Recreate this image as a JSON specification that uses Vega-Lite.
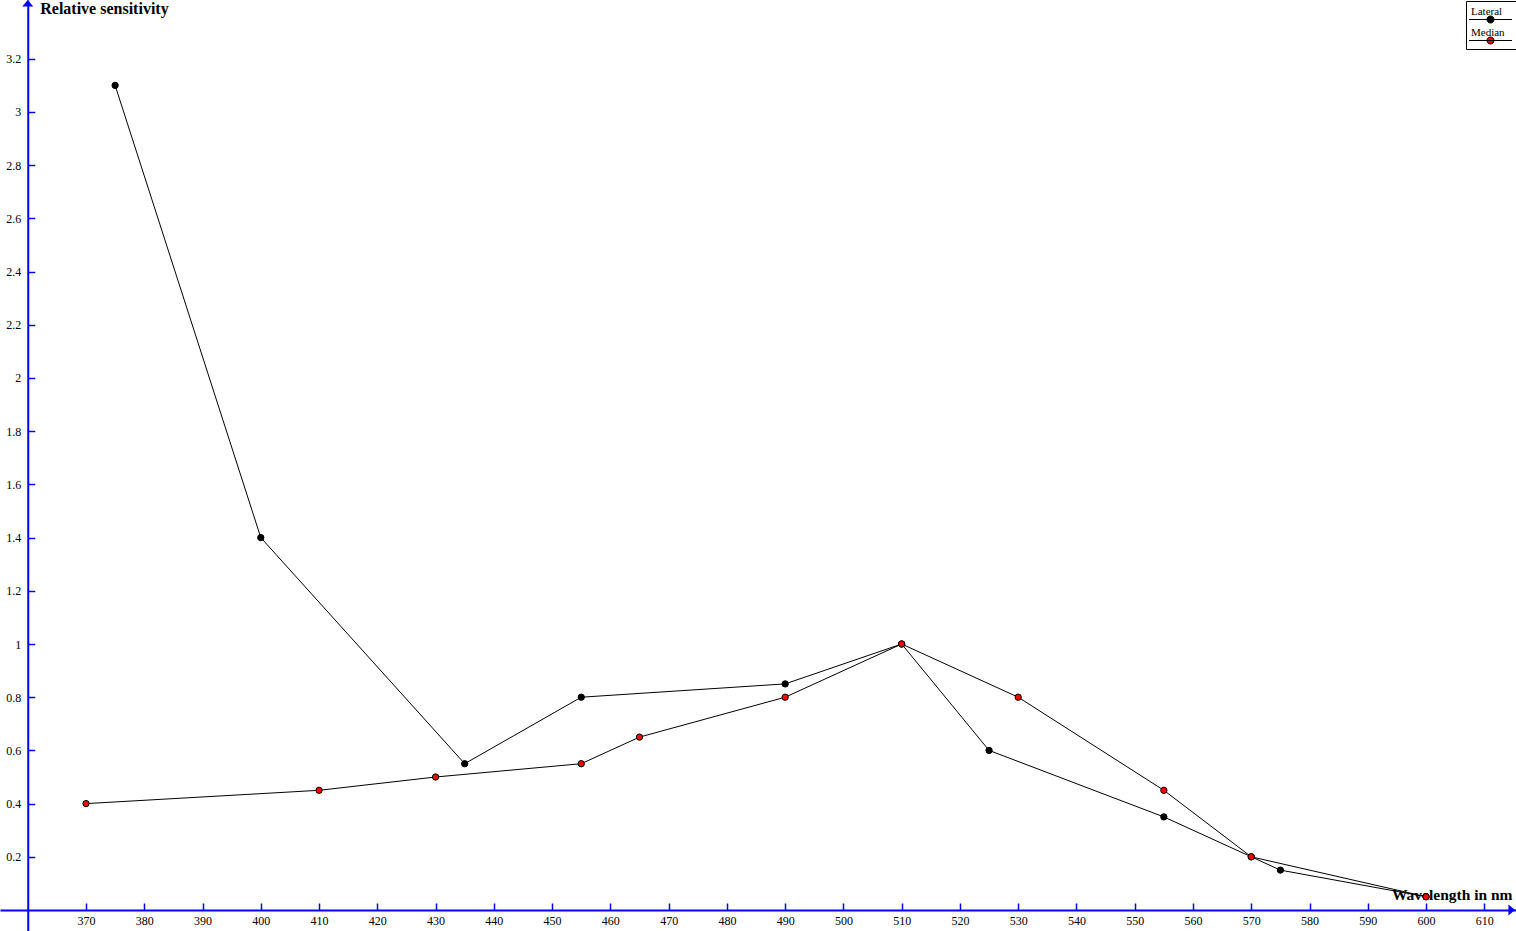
{
  "$schema": "https://vega.github.io/schema/vega-lite/v6.json",
  "width": 1516,
  "height": 931,
  "autosize": "none",
  "padding": 0,
  "background": "white",
  "config": {"view": {"stroke": null}, "font": "Liberation Serif"},
  "datasets": {
    "series": [
      {"series": "Lateral", "wavelength": 375, "sensitivity": 3.1},
      {"series": "Lateral", "wavelength": 400, "sensitivity": 1.4},
      {"series": "Lateral", "wavelength": 435, "sensitivity": 0.55},
      {"series": "Lateral", "wavelength": 455, "sensitivity": 0.8},
      {"series": "Lateral", "wavelength": 490, "sensitivity": 0.85},
      {"series": "Lateral", "wavelength": 510, "sensitivity": 1.0},
      {"series": "Lateral", "wavelength": 525, "sensitivity": 0.6},
      {"series": "Lateral", "wavelength": 555, "sensitivity": 0.35},
      {"series": "Lateral", "wavelength": 570, "sensitivity": 0.2},
      {"series": "Lateral", "wavelength": 575, "sensitivity": 0.15},
      {"series": "Lateral", "wavelength": 600, "sensitivity": 0.05},
      {"series": "Median", "wavelength": 370, "sensitivity": 0.4},
      {"series": "Median", "wavelength": 410, "sensitivity": 0.45},
      {"series": "Median", "wavelength": 430, "sensitivity": 0.5},
      {"series": "Median", "wavelength": 455, "sensitivity": 0.55},
      {"series": "Median", "wavelength": 465, "sensitivity": 0.65},
      {"series": "Median", "wavelength": 490, "sensitivity": 0.8},
      {"series": "Median", "wavelength": 510, "sensitivity": 1.0},
      {"series": "Median", "wavelength": 530, "sensitivity": 0.8},
      {"series": "Median", "wavelength": 555, "sensitivity": 0.45},
      {"series": "Median", "wavelength": 570, "sensitivity": 0.2},
      {"series": "Median", "wavelength": 600, "sensitivity": 0.05}
    ],
    "arrows": [
      {"kind": "up", "wavelength": 360, "sensitivity": 3.4086},
      {"kind": "right", "wavelength": 614.71, "sensitivity": 0}
    ]
  },
  "layer": [
    {
      "data": {"name": "series"},
      "mark": {"type": "line", "color": "black", "strokeWidth": 1},
      "encoding": {
        "x": {
          "field": "wavelength", "type": "quantitative",
          "scale": {"domain": [355.239, 615.44], "nice": false, "zero": false},
          "axis": {
            "offset": -21,
            "values": [370, 380, 390, 400, 410, 420, 430, 440, 450, 460, 470, 480, 490, 500, 510, 520, 530, 540, 550, 560, 570, 580, 590, 600, 610],
            "format": "~g",
            "grid": false,
            "domainColor": "#0000FF", "domainWidth": 2,
            "tickColor": "#0000FF", "tickWidth": 1.5, "tickSize": -7,
            "labelPadding": 12, "labelFontSize": 12, "labelColor": "black",
            "labelFont": "Liberation Serif", "labelFlush": false, "labelOverlap": false,
            "labelBaseline": "top",
            "title": "Wavelength in nm",
            "titleFont": "Liberation Serif", "titleFontSize": 15.5, "titleFontWeight": "bold",
            "titleColor": "black",
            "titleX": 1512, "titleY": -11, "titleAlign": "right", "titleBaseline": "alphabetic", "titleAngle": 0
          }
        },
        "y": {
          "field": "sensitivity", "type": "quantitative",
          "scale": {"domain": [-0.0789, 3.421], "nice": false, "zero": false},
          "axis": {
            "offset": -27.74,
            "values": [0.2, 0.4, 0.6, 0.8, 1, 1.2, 1.4, 1.6, 1.8, 2, 2.2, 2.4, 2.6, 2.8, 3, 3.2],
            "format": "~g",
            "grid": false,
            "domainColor": "#0000FF", "domainWidth": 2,
            "tickColor": "#0000FF", "tickWidth": 1.5, "tickSize": -7,
            "labelPadding": 14, "labelFontSize": 12, "labelColor": "black",
            "labelFont": "Liberation Serif", "labelFlush": false, "labelOverlap": false,
            "title": "Relative sensitivity",
            "titleFont": "Liberation Serif", "titleFontSize": 16, "titleFontWeight": "bold",
            "titleColor": "black",
            "titleX": 12, "titleY": 13, "titleAlign": "left", "titleBaseline": "alphabetic", "titleAngle": 0
          }
        },
        "detail": {"field": "series", "type": "nominal"}
      }
    },
    {
      "data": {"name": "series"},
      "mark": {"type": "point", "filled": true, "size": 40, "stroke": "black", "strokeWidth": 1, "opacity": 1},
      "encoding": {
        "x": {"field": "wavelength", "type": "quantitative"},
        "y": {"field": "sensitivity", "type": "quantitative"},
        "fill": {
          "field": "series", "type": "nominal",
          "scale": {"domain": ["Lateral", "Median"], "range": ["#000000", "#FF0000"]},
          "legend": {
            "orient": "none", "legendX": 1466, "legendY": 1,
            "title": null,
            "strokeColor": "black", "padding": 3,
            "symbolType": "M-2.15,0.5H2.15M0.35,0.5A0.35,0.35,0,1,1,-0.35,0.5A0.35,0.35,0,1,1,0.35,0.5Z",
            "symbolSize": 400,
            "symbolStrokeColor": "black", "symbolStrokeWidth": 1,
            "symbolOffset": 11,
            "labelOffset": -30,
            "labelBaseline": "alphabetic",
            "labelFont": "Liberation Serif", "labelFontSize": 11, "labelColor": "black",
            "rowPadding": 0
          }
        }
      }
    },
    {
      "data": {"name": "arrows"},
      "mark": {"type": "point", "filled": true, "size": 121, "fill": "#0000FF", "opacity": 1, "strokeWidth": 0},
      "encoding": {
        "x": {"field": "wavelength", "type": "quantitative"},
        "y": {"field": "sensitivity", "type": "quantitative"},
        "shape": {
          "field": "kind", "type": "nominal",
          "scale": {"domain": ["up", "right"], "range": ["M0,-0.6L1,0.6L-1,0.6Z", "M0.6,0L-0.6,1L-0.6,-1Z"]},
          "legend": null
        }
      }
    }
  ]
}
